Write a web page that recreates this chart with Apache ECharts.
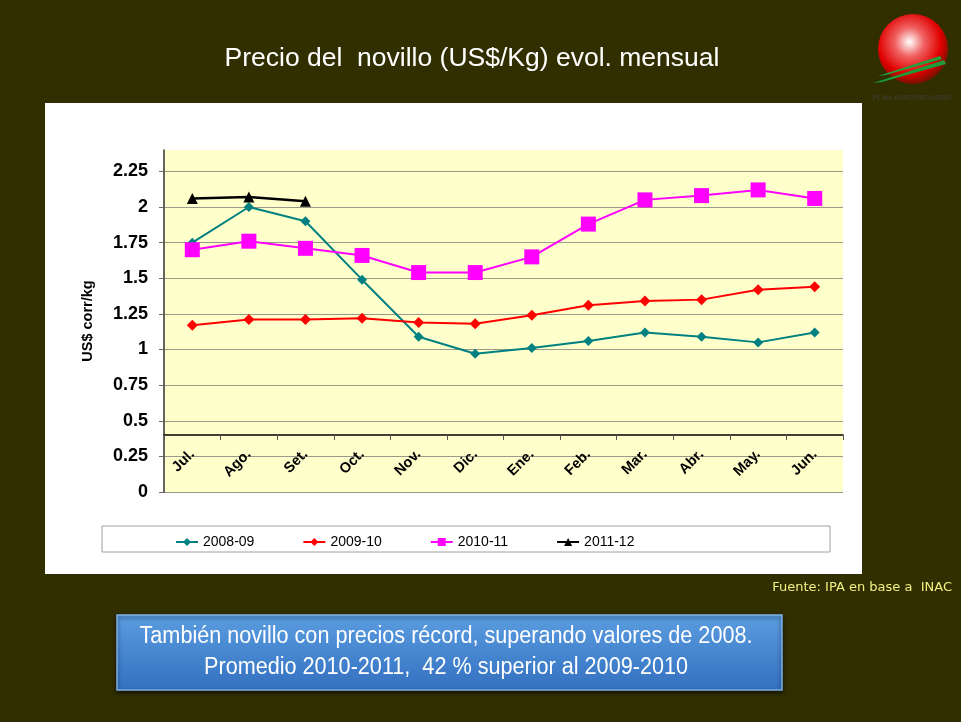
<!DOCTYPE html>
<html>
<head>
<meta charset="utf-8">
<script src="https://cdn.jsdelivr.net/npm/echarts@6/dist/echarts.min.js"></script>
<style>
  html, body { margin: 0; padding: 0; background: #312f00; }
  #chartmain { width: 961px; height: 722px; }
</style>
</head>
<body>
<div id="chartmain"></div>
<script>
// datos (US$ corr/kg)
var meses = ['Jul.', 'Ago.', 'Set.', 'Oct.', 'Nov.', 'Dic.', 'Ene.', 'Feb.', 'Mar.', 'Abr.', 'May.', 'Jun.'];
var s2008 = [1.75, 2.00, 1.90, 1.49, 1.09, 0.97, 1.01, 1.06, 1.12, 1.09, 1.05, 1.12];
var s2009 = [1.17, 1.21, 1.21, 1.22, 1.19, 1.18, 1.24, 1.31, 1.34, 1.35, 1.42, 1.44];
var s2010 = [1.70, 1.76, 1.71, 1.66, 1.54, 1.54, 1.65, 1.88, 2.05, 2.08, 2.12, 2.06];
var s2011 = [2.06, 2.07, 2.04];
var nombres = ['2008-09', '2009-10', '2010-11', '2011-12'];

var yMax = 2.4;      // tope del area amarilla
var cruce = 0.4;     // el eje de categorias corta aqui
var gridTop = 150, gridBottom = 230;
var gridH = 722 - gridTop - gridBottom;

// lineas de division: la del tope (2.4) no se dibuja
var coloresDiv = [];
for (var i = 0; i < 10; i++) coloresDiv.push('#9a9a8a');
coloresDiv.push('rgba(0,0,0,0)');

var myChart = echarts.init(document.getElementById('chartmain'));

var option = {
    backgroundColor: '#312f00',
    animation: false,
    title: {
        text: 'Precio del  novillo (US$/Kg) evol. mensual',
        left: 467,
        top: 40,
        textAlign: 'center',
        textStyle: { color: '#ffffff', fontFamily: 'Liberation Sans', fontSize: 26.5, fontWeight: 'normal' }
    },
    legend: {
        data: nombres,
        left: 170,
        top: 530,
        itemWidth: 22,
        itemHeight: 10,
        itemGap: 48,
        textStyle: { color: '#000', fontFamily: 'Liberation Sans', fontSize: 14 }
    },
    grid: {
        left: 164, right: 118, top: gridTop, bottom: gridBottom,
        show: true,
        backgroundColor: '#ffffcc',
        borderWidth: 0
    },
    xAxis: {
        type: 'category',
        data: meses,
        boundaryGap: true,
        offset: -Math.round(cruce / yMax * gridH),
        axisLine: { lineStyle: { color: '#000', width: 1.5 } },
        axisTick: { show: true, length: 5, lineStyle: { color: '#555' } },
        axisLabel: { rotate: 45, margin: 17, color: '#000', fontFamily: 'Liberation Sans', fontWeight: 'bold', fontSize: 14.5 },
        splitLine: { show: false }
    },
    yAxis: {
        type: 'value',
        min: 0,
        max: yMax,
        interval: 0.25,
        name: 'US$ corr/kg',
        nameLocation: 'middle',
        nameRotate: 90,
        nameGap: 69,
        nameTextStyle: { color: '#000', fontFamily: 'Liberation Sans', fontWeight: 'bold', fontSize: 14.5 },
        axisLine: { show: true, lineStyle: { color: '#333', width: 1.5 } },
        axisTick: { show: true, length: 5, lineStyle: { color: '#666' } },
        axisLabel: {
            showMaxLabel: false,
            margin: 16,
            color: '#000', fontFamily: 'Liberation Sans', fontWeight: 'bold', fontSize: 18,
            formatter: function (v) { return String(Math.round(v * 100) / 100); }
        },
        splitLine: { show: true, lineStyle: { color: coloresDiv, width: 1.2 } }
    },
    series: [
        {
            name: nombres[0], type: 'line', data: s2008,
            symbol: 'diamond', symbolSize: 10,
            itemStyle: { color: '#008080' },
            lineStyle: { color: '#008080', width: 2 }, z: 3
        },
        {
            name: nombres[1], type: 'line', data: s2009,
            symbol: 'diamond', symbolSize: 11,
            itemStyle: { color: '#ff0000' },
            lineStyle: { color: '#ff0000', width: 2 }, z: 4
        },
        {
            name: nombres[2], type: 'line', data: s2010,
            symbol: 'rect', symbolSize: 15,
            itemStyle: { color: '#ff00ff' },
            lineStyle: { color: '#ff00ff', width: 2 }, z: 5
        },
        {
            name: nombres[3], type: 'line', data: s2011,
            symbol: 'triangle', symbolSize: 11,
            itemStyle: { color: '#000000' },
            lineStyle: { color: '#000000', width: 2.5 }, z: 6
        }
    ],
    graphic: [
        // panel blanco del grafico
        { type: 'rect', z: -10, shape: { x: 45, y: 103, width: 817, height: 471 }, style: { fill: '#ffffff' } },
        // recuadro de la leyenda
        { type: 'rect', z: -5, shape: { x: 102, y: 526, width: 728, height: 26 }, style: { fill: '#ffffff', stroke: '#a0a0a0', lineWidth: 1 } },
        // fuente
        {
            type: 'text', right: 9, top: 581,
            style: { text: 'Fuente: IPA en base a  INAC', fill: '#f2f080', font: '13px "DejaVu Sans"' }
        },
        // recuadro azul
        {
            type: 'rect', shape: { x: 117, y: 615, width: 665, height: 75 },
            style: {
                fill: new echarts.graphic.LinearGradient(0, 0, 0, 1, [
                    { offset: 0, color: '#5b9de0' },
                    { offset: 1, color: '#3370c0' }
                ]),
                stroke: '#7fb0e8', lineWidth: 1.5,
                shadowColor: 'rgba(0,0,0,0.6)', shadowBlur: 4, shadowOffsetY: 2
            }
        },
        {
            type: 'text', x: 446, y: 637, scaleX: 0.94,
            style: {
                text: 'También novillo con precios récord, superando valores de 2008.',
                fill: '#ffffff', font: '23px "Liberation Sans"',
                textAlign: 'center', textVerticalAlign: 'middle'
            }
        },
        {
            type: 'text', x: 446, y: 668, scaleX: 0.94,
            style: {
                text: 'Promedio 2010-2011,  42 % superior al 2009-2010',
                fill: '#ffffff', font: '23px "Liberation Sans"',
                textAlign: 'center', textVerticalAlign: 'middle'
            }
        },
        // logo
        {
            type: 'circle', shape: { cx: 913, cy: 49, r: 35 },
            style: {
                fill: new echarts.graphic.RadialGradient(0.45, 0.4, 0.6, [
                    { offset: 0, color: '#ffffff' },
                    { offset: 0.35, color: '#f06060' },
                    { offset: 0.75, color: '#e00000' },
                    { offset: 1, color: '#7a1000' }
                ])
            }
        },
        { type: 'polygon', shape: { points: [[873, 83], [944, 60], [946, 64], [882, 82]] }, style: { fill: '#1f9a3a' } },
        { type: 'polygon', shape: { points: [[878, 76], [940, 56], [942, 59], [886, 75]] }, style: { fill: '#22a040' } },
        {
            type: 'text', x: 912, y: 98,
            style: { text: 'PLAN AGROPECUARIO', fill: '#3a3a2a', font: 'bold 7px "Liberation Sans"', textAlign: 'center', textVerticalAlign: 'middle' }
        }
    ]
};

myChart.setOption(option);
</script>
</body>
</html>
